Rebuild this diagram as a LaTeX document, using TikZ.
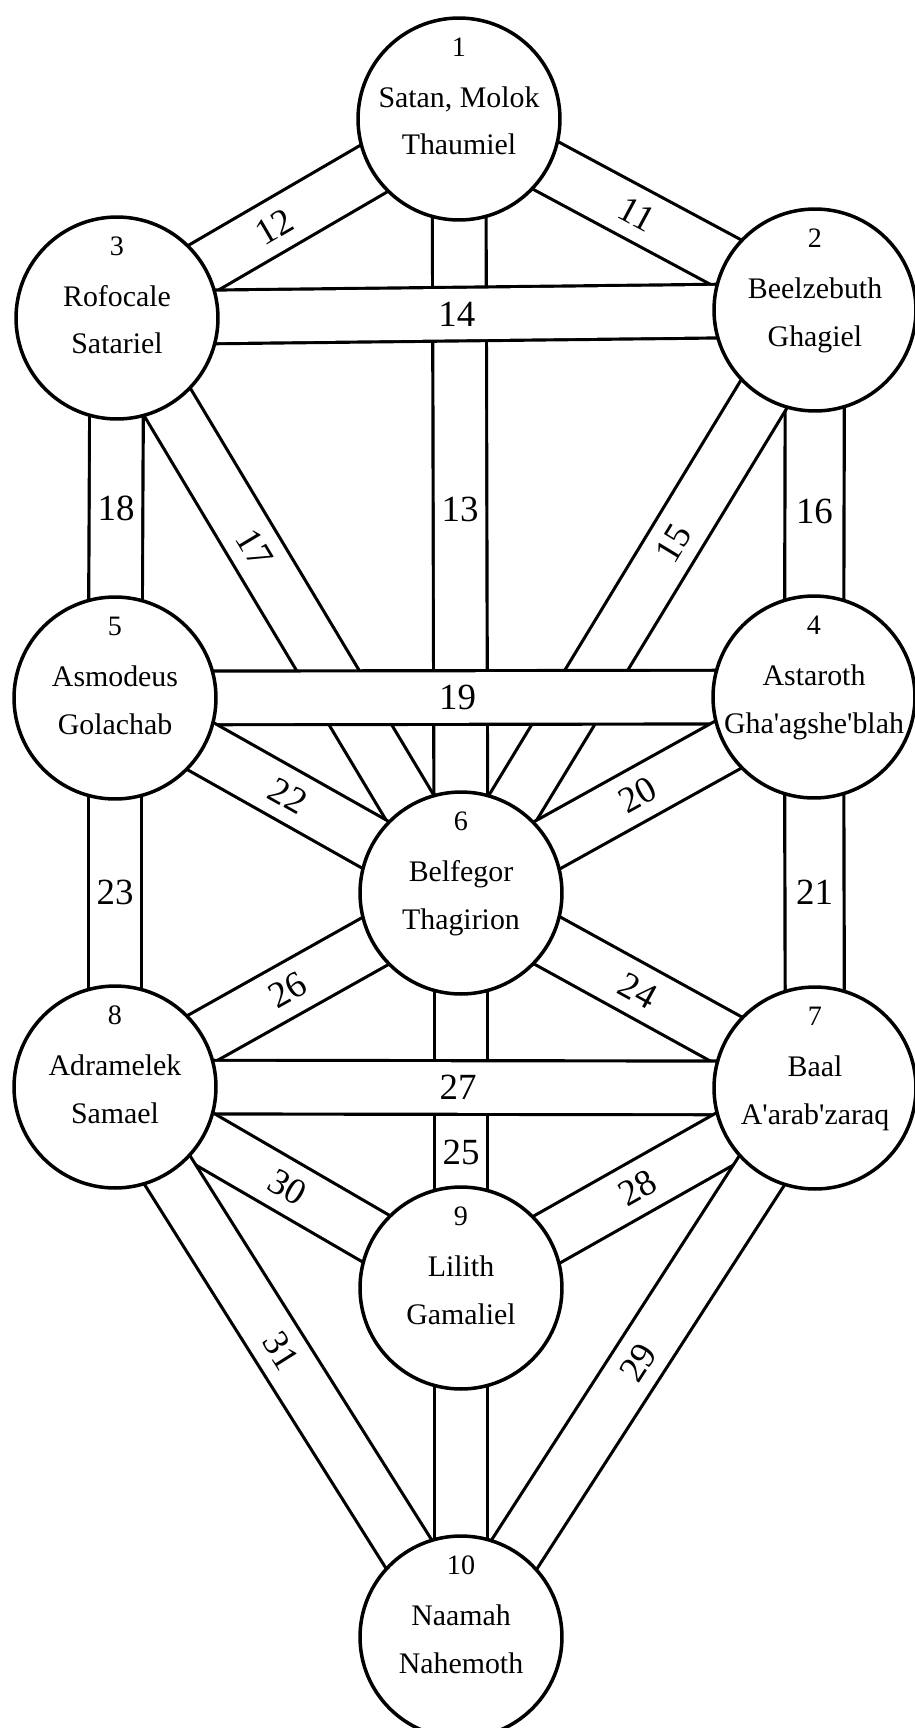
\documentclass[tikz,border=0pt]{standalone}
\usepackage{fontspec}
\setmainfont{Liberation Serif}
\usetikzlibrary{backgrounds}

\begin{document}
\begin{tikzpicture}[x=0.02cm,y=-0.02cm,line cap=round,
			sephira/.style={circle,draw,line width=2pt,fill=white,minimum size=4.04cm,inner sep=0pt},
			channel/.style={line width=1.8pt,double=white,double distance=1.01cm},
			wide/.style={double distance=1.12cm},
			pathno/.style={font=\fontsize{21}{21}\selectfont,inner sep=1pt},
			numtext/.style={font=\fontsize{16}{16}\selectfont,anchor=base,inner sep=0pt},
			nametext/.style={font=\fontsize{17}{17}\selectfont,anchor=base,inner sep=0pt}]
			\useasboundingbox (0,0) rectangle (914,1728);
			% the ten circles
			\foreach \n/\x/\y/\a/\b in {
				1/459/119/{Satan, Molok}/Thaumiel,
				2/815/310/Beelzebuth/Ghagiel,
				3/117/318/Rofocale/Satariel,
				4/814/697/Astaroth/{Gha\textquotesingle agshe\textquotesingle blah},
				5/115/698/Asmodeus/Golachab,
				6/461/893/Belfegor/Thagirion,
				7/815/1088/Baal/{A\textquotesingle arab\textquotesingle zaraq},
				8/115/1087/Adramelek/Samael,
				9/461/1288/Lilith/Gamaliel,
				10/461/1637/Naamah/Nahemoth}
			{\node[sephira] (s\n) at (\x,\y) {};
				\node[numtext] (n\n) at ([yshift=1.25cm]s\n.center) {\n};
				\node[nametext] (a\n) at ([yshift=0.24cm]s\n.center) {\a};
				\node[nametext] (b\n) at ([yshift=-0.72cm]s\n.center) {\b};}
			% the paths between them
			\begin{scope}[on background layer]
			\draw[channel] (s1.center) -- (s3.center) node[pathno,pos=0.54,sloped]{12};
			\draw[channel] (s1.center) -- (s2.center) node[pathno,midway,sloped]{11};
			\draw[channel] (s1.center) -- (s6.center) node[pathno,pos=0.505]{13};
			\draw[channel] (s3.center) -- (s5.center) node[pathno,midway]{18};
			\draw[channel,wide] (s2.center) -- (s4.center) node[pathno,pos=0.52]{16};
			\draw[channel] (s3.center) -- (s6.center) node[pathno,pos=0.4,sloped]{17};
			\draw[channel] (s2.center) -- (s6.center) node[pathno,pos=0.4,sloped]{15};
			\draw[channel] (s3.center) -- (s2.center) node[pathno,pos=0.487]{14};
			\draw[channel] (s5.center) -- (s4.center) node[pathno,pos=0.49]{19};
			\draw[channel] (s4.center) -- (s6.center) node[pathno,midway,sloped]{20};
			\draw[channel] (s5.center) -- (s6.center) node[pathno,midway,sloped]{22};
			\draw[channel,wide] (s4.center) -- (s7.center) node[pathno,midway]{21};
			\draw[channel] (s5.center) -- (s8.center) node[pathno,midway]{23};
			\draw[channel] (s6.center) -- (s7.center) node[pathno,midway,sloped]{24};
			\draw[channel] (s6.center) -- (s8.center) node[pathno,midway,sloped]{26};
			\draw[channel] (s6.center) -- (s9.center) node[pathno,pos=0.656]{25};
			\draw[channel] (s8.center) -- (s7.center) node[pathno,pos=0.49]{27};
			\draw[channel] (s7.center) -- (s9.center) node[pathno,midway,sloped]{28};
			\draw[channel] (s8.center) -- (s9.center) node[pathno,midway,sloped]{30};
			\draw[channel] (s7.center) -- (s10.center) node[pathno,midway,sloped]{29};
			\draw[channel] (s8.center) -- (s10.center) node[pathno,pos=0.48,sloped]{31};
			\draw[channel] (s9.center) -- (s10.center);
			\end{scope}
		\end{tikzpicture}
\end{document}
